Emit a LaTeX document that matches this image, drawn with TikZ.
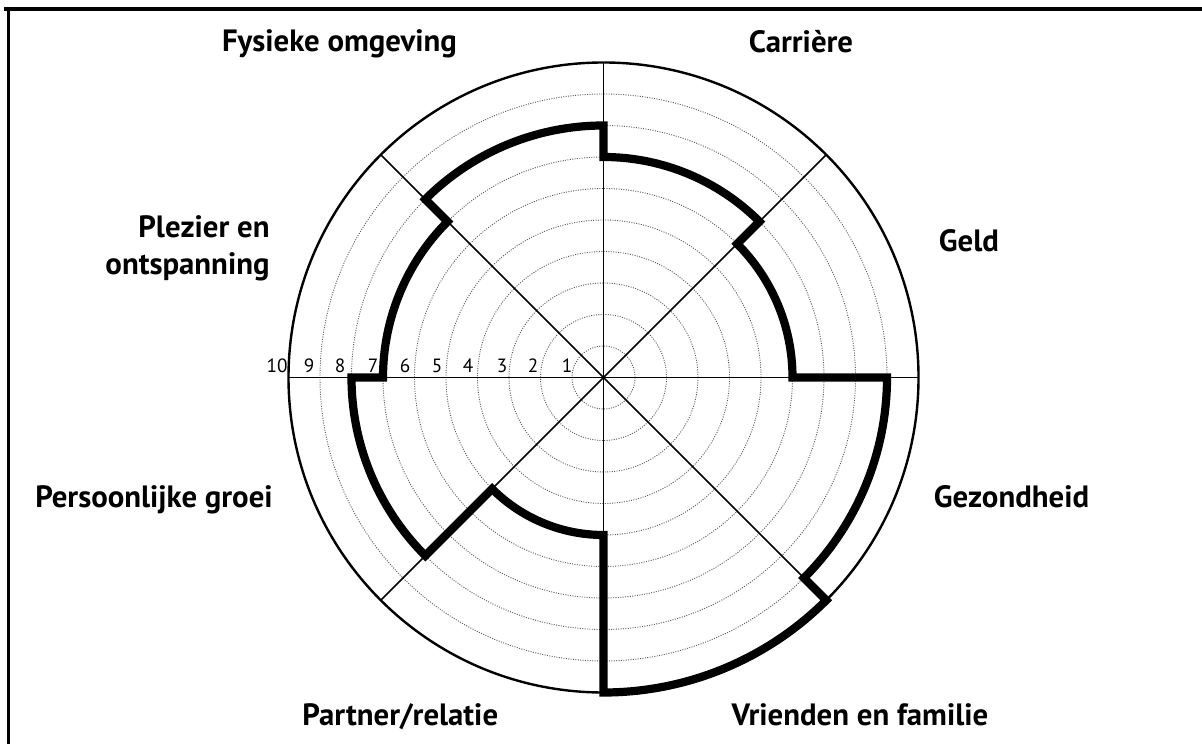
\documentclass[tikz,border=0pt]{standalone}
\usepackage{fontspec}
\setmainfont{PT Sans}
\begin{document}
\begin{tikzpicture}[x=0.5pt,y=0.5pt,
  lbl/.style={inner sep=0pt,font=\fontsize{15.4}{17}\selectfont\bfseries},
  num/.style={inner sep=0pt,anchor=base,font=\fontsize{9.6}{11}\selectfont},
  ring/.style={draw=black!65,line width=0.45pt,dash pattern=on 0.5pt off 0.7pt},
  axis/.style={draw=black,line width=0.85pt},
  rim/.style={draw=black,line width=1.2pt},
  score/.style={draw=black,line width=4.1pt,line join=miter},
  frame/.style={draw=black,line width=1.8pt}]
\useasboundingbox (0,0) rectangle (1202,744);
% frame (top and left edges only)
\draw[frame] (4,735) -- (1202,735);
\draw[frame] (8.5,736) -- (8.5,0);
% wheel
\begin{scope}[shift={(603.5,366.5)}]
  \coordinate (c) at (0,0);
  \foreach \k in {1,...,9} \draw[ring] (c) circle ({31.5*\k});
  \foreach \a in {0,45,90,135} \draw[axis] (\a:315) -- (\a+180:315);
  \draw[rim] (c) circle (315);
  \draw[score] (0:189) arc[start angle=0,end angle=45,radius=189]
     -- (45:220.5) arc[start angle=45,end angle=90,radius=220.5]
     -- (90:252) arc[start angle=90,end angle=135,radius=252]
     -- (135:220.5) arc[start angle=135,end angle=180,radius=220.5]
     -- (180:252) arc[start angle=180,end angle=225,radius=252]
     -- (225:157.5) arc[start angle=225,end angle=270,radius=157.5]
     -- (270:315) arc[start angle=270,end angle=315,radius=315]
     -- (315:283.5) arc[start angle=315,end angle=360,radius=283.5]
     -- cycle;
  % scale numbers
  \node[num] (n1) at (-36.5,5) {1};
  \node[num] (n2) at (-70.5,5) {2};
  \node[num] (n3) at (-101.5,5) {3};
  \node[num] (n4) at (-135.5,5) {4};
  \node[num] (n5) at (-166.5,5) {5};
  \node[num] (n6) at (-198.5,5) {6};
  \node[num] (n7) at (-230.5,5) {7};
  \node[num] (n8) at (-263.5,5) {8};
  \node[num] (n9) at (-294.5,5) {9};
  \node[num] (n10) at (-326.5,5) {10};
\end{scope}
% labels
\node[lbl,anchor=base] (fys) at (339.5,692) {Fysieke omgeving};
\node[lbl,anchor=base] (car) at (801,691) {Carrière};
\node[lbl,anchor=base] (geld) at (969,492) {Geld};
\node[lbl,anchor=base east] (plz1) at (270,506) {Plezier en};
\node[lbl,anchor=base east] (plz2) at (270,469) {ontspanning};
\node[lbl,anchor=base] (pers) at (154,237) {Persoonlijke groei};
\node[lbl,anchor=base] (gez) at (1011.5,237) {Gezondheid};
\node[lbl,anchor=base west] (part) at (302,19) {Partner/relatie};
\node[lbl,anchor=base] (vri) at (860,19) {Vrienden en familie};
\end{tikzpicture}
\end{document}
